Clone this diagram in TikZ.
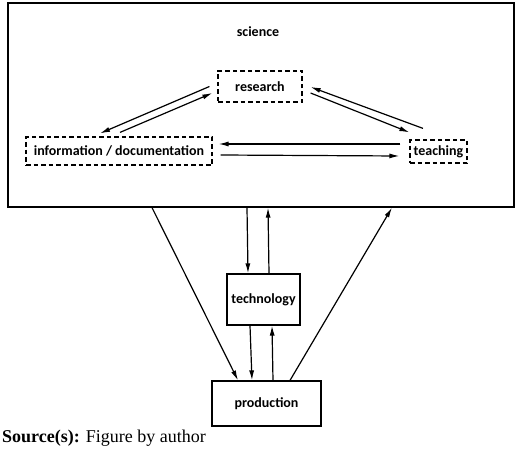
\documentclass[tikz,border=0pt]{standalone}
\usepackage{fontspec}
\setmainfont{Liberation Serif}
\newfontfamily\diafont{Carlito}
\usepackage{xcolor}
\usepackage{tikz}
\usetikzlibrary{arrows.meta,positioning,calc}
\tikzset{
    field/.style={
        draw=black,
        rectangle,
        line width=1.2pt,
        align=center,
        inner sep=1pt,
        font=\diafont\bfseries\fontsize{14}{16}\selectfont
    },
    activity/.style={
        field,
        dashed,
        dash pattern=on 4.5pt off 3pt
    },
    arrow/.style={
        -{Latex[length=10pt,width=5pt]},
        line width=1.2pt,
        color=black
    }
}

\begin{document}
\begin{tikzpicture}[x=1pt, y=-1pt]
    \useasboundingbox (0,0) rectangle (520,452);
    % Outer field
    \node[field, minimum width=506pt, minimum height=204pt] (science) at (261,105) {};
    \node[font=\diafont\bfseries\fontsize{14}{16}\selectfont] (sciencelabel) at (258,32) {science};

    % Activities inside science
    \node[activity, minimum width=84pt, minimum height=31pt] (research) at (260,86.5) {research};
    \node[activity, minimum width=186pt, minimum height=28pt] (info) at (119,151) {information / documentation};
    \node[activity, minimum width=57pt, minimum height=23pt] (teaching) at (438.5,151.5) {teaching};

    % Lower boxes
    \node[field, minimum width=73pt, minimum height=51pt] (technology) at (263.5,299.5) {technology};
    \node[field, minimum width=109pt, minimum height=45pt] (production) at (266.5,403.5) {production};

    % Connections inside science
    \draw[arrow] ([shift={(-8,0)}]research.west) -- ([shift={(-19,-3)}]info.north);
    \draw[arrow] ([shift={(1,-4)}]info.north) -- ([shift={(-5,6.5)}]research.west);
    \draw[arrow] ([shift={(-15.5,-11)}]teaching.north) -- ([shift={(8,0.5)}]research.east);
    \draw[arrow] ([shift={(8,6.5)}]research.east) -- ([shift={(0,-7)}]teaching.north west);
    \draw[arrow] ([shift={(-9,-7.5)}]teaching.west) -- ([shift={(6,-7)}]info.east);
    \draw[arrow] ([shift={(8,4)}]info.east) -- ([shift={(-10,4.5)}]teaching.west);

    % Connections below
    \draw[arrow] ([shift={(-109,0)}]science.south) -- ([shift={(-28.5,0)}]production.north);
    \draw[arrow] ([shift={(-14,0)}]science.south) -- ([shift={(-15.5,0)}]technology.north);
    \draw[arrow] ([shift={(5.5,0)}]technology.north) -- ([shift={(7,0)}]science.south);
    \draw[arrow] ([shift={(-13.5,0)}]technology.south) -- ([shift={(-14.5,0)}]production.north);
    \draw[arrow] ([shift={(6.5,0)}]production.north) -- ([shift={(8.5,0)}]technology.south);
    \draw[arrow] ([shift={(23.5,0)}]production.north) -- ([shift={(131,0)}]science.south);

    % Source line
    \node[anchor=west, inner sep=0pt, font=\fontsize{18}{20}\selectfont] (source) at (2,438) {\textbf{Source(s):} Figure by author};
\end{tikzpicture}
\end{document}
